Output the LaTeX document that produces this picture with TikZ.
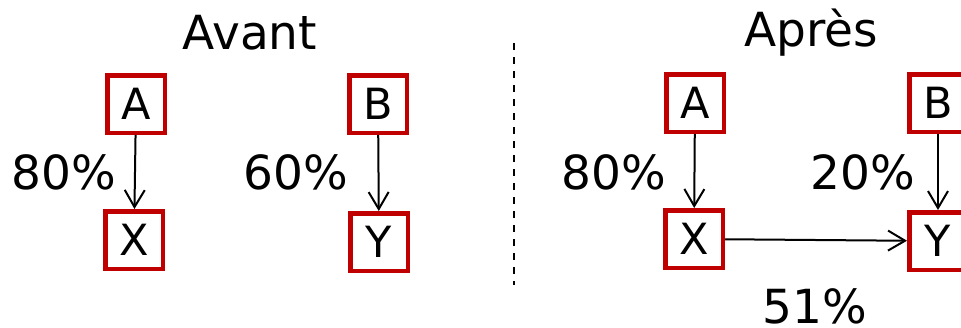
\documentclass[tikz,border=0pt]{standalone}
\usepackage{fontspec}
\setmainfont{DejaVu Sans}
\usetikzlibrary{arrows.meta}
\definecolor{boxred}{RGB}{192,0,0}
\begin{document}
\begin{tikzpicture}[x=1pt,y=-1pt,
  vbox/.style={draw=boxred,line width=4.5pt,fill=white,minimum width=57.5pt,minimum height=57.5pt,inner sep=0pt,font=\fontsize{43}{43}\selectfont},
  pct/.style={font=\fontsize{47}{47}\selectfont,inner sep=0pt},
  ttl/.style={font=\fontsize{47}{47}\selectfont,inner sep=0pt},
  link/.style={line width=2pt,-{Straight Barb[length=17pt,width=20pt,line width=2pt]}}]
\useasboundingbox (0,0) rectangle (961,327);
% Avant
\node[ttl] (t1) at (250,33) {Avant};
\node[vbox] (a1) at (136,104) {A};
\node[vbox] (x1) at (134,240) {X};
\node[vbox] (b1) at (378,104) {B};
\node[vbox] (y1) at (379,242) {Y};
\node[pct] (p1) at (64,172) {80\%};
\node[pct] (p2) at (296,172) {60\%};
\draw[link] (a1) -- (x1);
\draw[link] (b1) -- (y1);
% separator
\coordinate (s1) at (514,43);
\coordinate (s2) at (514,285);
\draw[line width=2pt,dash pattern=on 7pt off 7pt] (s1) -- (s2);
% Apres
\node[ttl] (t2) at (811,33) {Après};
\node[vbox] (a2) at (695,103) {A};
\node[vbox] (x2) at (694,239) {X};
\node[vbox] (b2) at (938,103) {B};
\node[vbox] (y2) at (938,241) {Y};
\node[pct] (p3) at (614,172) {80\%};
\node[pct] (p4) at (863,172) {20\%};
\node[pct] (p5) at (815,306) {51\%};
\draw[link] (a2) -- (x2);
\draw[link] (b2) -- (y2);
\draw[link] (x2) -- (y2);
\end{tikzpicture}
\end{document}
